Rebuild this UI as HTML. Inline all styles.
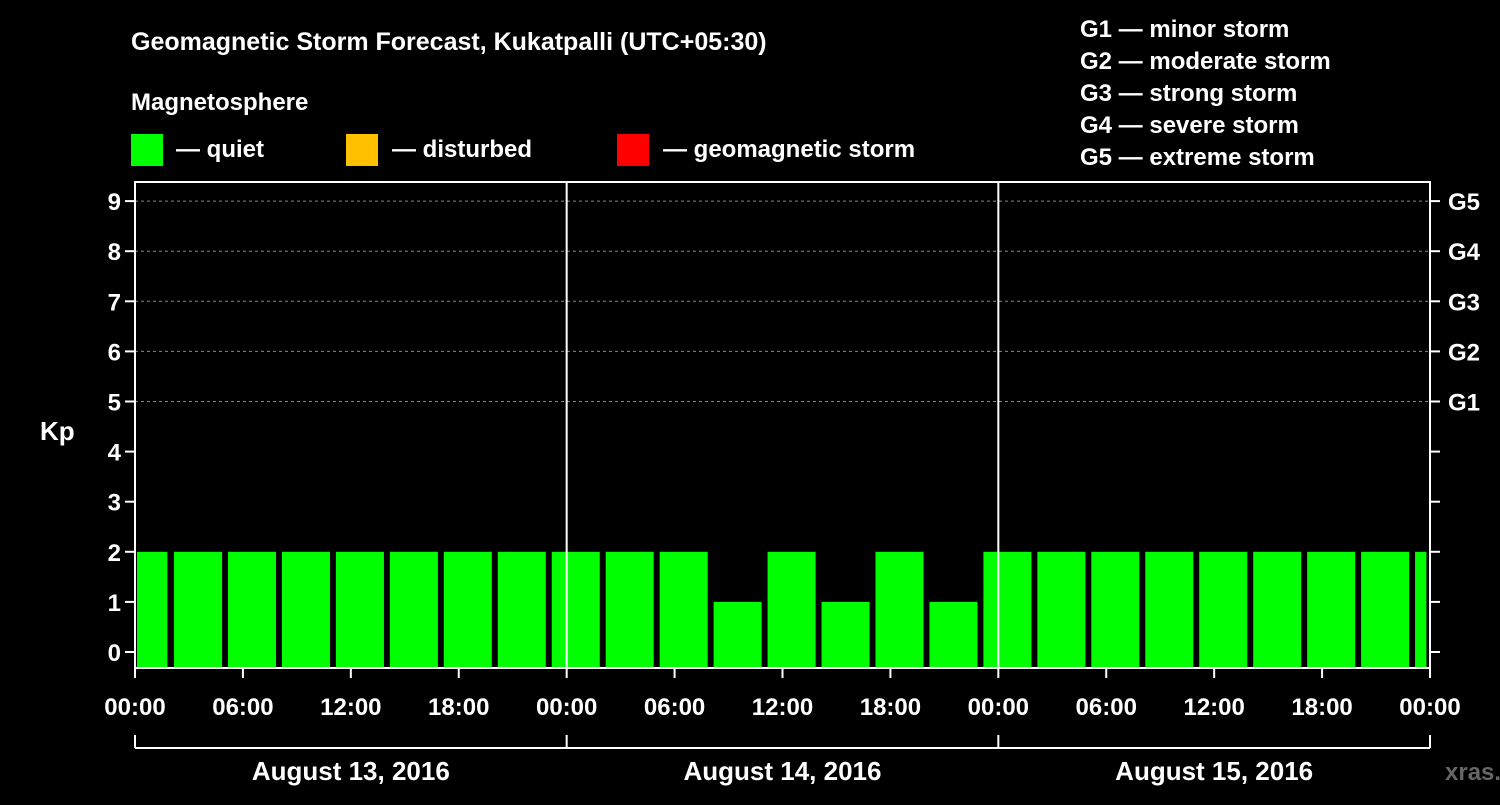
<!DOCTYPE html>
<html><head><meta charset="utf-8"><style>
body{margin:0;background:#000;width:1500px;height:800px;overflow:hidden}
svg text{font-family:"Liberation Sans",Arial,sans-serif;font-weight:bold;fill:#fff}
</style></head><body>
<svg width="1500" height="800" id="c">
<text x="131" y="50" font-size="25">Geomagnetic Storm Forecast, Kukatpalli (UTC+05:30)</text>
<text x="131" y="110" font-size="24">Magnetosphere</text>
<rect x="131" y="134" width="32" height="32" fill="#00ff00"/>
<text x="176" y="157" font-size="24">— quiet</text>
<rect x="346" y="134" width="32" height="32" fill="#ffc000"/>
<text x="392" y="157" font-size="24">— disturbed</text>
<rect x="617" y="134" width="32" height="32" fill="#ff0000"/>
<text x="663" y="157" font-size="24">— geomagnetic storm</text>
<g font-size="24">
<text x="1080" y="37">G1 — minor storm</text>
<text x="1080" y="69">G2 — moderate storm</text>
<text x="1080" y="101">G3 — strong storm</text>
<text x="1080" y="133">G4 — severe storm</text>
<text x="1080" y="165">G5 — extreme storm</text>
</g>
<text x="40" y="440" font-size="26">Kp</text>
<g id="plot"></g>
<text x="1445" y="780" font-size="24" style="fill:#666">xras.ru</text>
</svg>
<script>
const firstPartial = 2;
const kpValues = [2,2,2,2,2,2,2,2,2,2,1,2,1,2,1,2,2,2,2,2,2,2,2];
const lastPartial = 2;
const yTicks = [0,1,2,3,4,5,6,7,8,9];
const gLabels = ['G1','G2','G3','G4','G5'];
const xTickLabels = ['00:00','06:00','12:00','18:00','00:00','06:00','12:00','18:00','00:00','06:00','12:00','18:00','00:00'];
const dayLabels = ['August 13, 2016','August 14, 2016','August 15, 2016'];

const NS='http://www.w3.org/2000/svg';
const g=document.getElementById('plot');
const X0=135,X1=1430,TOP=182,BOT=668;
const hx=h=>X0+(X1-X0)*h/72;
const ky=k=>652-k*50.1;
function mk(t,a,p){const e=document.createElementNS(NS,t);for(const k in a)e.setAttribute(k,a[k]);(p||g).appendChild(e);return e;}
function colorFor(v){return v>=5?'#ff0000':v>=4?'#ffc000':'#00ff00';}
// grid
yTicks.forEach(k=>{
  if(k>=5){const l=mk('line',{x1:X0,x2:X1,y1:ky(k),y2:ky(k),stroke:'#888','stroke-dasharray':'3,3'});
  }
});
// bars
let b=mk('rect',{x:hx(0)+2,y:ky(firstPartial),width:hx(1.8)-hx(0)-2,height:BOT-ky(firstPartial),fill:colorFor(firstPartial)});

kpValues.forEach((v,i)=>{
  const s=2.17+3*i;
  const r=mk('rect',{x:hx(s),y:ky(v),width:hx(s+2.67)-hx(s),height:BOT-ky(v),fill:colorFor(v)});
  
});
const ls=2.17+3*kpValues.length;
b=mk('rect',{x:hx(ls),y:ky(lastPartial),width:hx(71.8)-hx(ls),height:BOT-ky(lastPartial),fill:colorFor(lastPartial)});

// frame
const f=mk('rect',{x:X0,y:TOP,width:X1-X0,height:BOT-TOP,fill:'none',stroke:'#fff','stroke-width':2});

[24,48].forEach(h=>{const l=mk('line',{x1:hx(h),x2:hx(h),y1:TOP,y2:BOT,stroke:'#fff','stroke-width':2});
});
// y ticks
yTicks.forEach(k=>{
  mk('line',{x1:X0-10,x2:X0,y1:ky(k),y2:ky(k),stroke:'#fff','stroke-width':2});
  mk('line',{x1:X1,x2:X1+10,y1:ky(k),y2:ky(k),stroke:'#fff','stroke-width':2});
  const t=mk('text',{x:X0-14,y:ky(k)+9,'font-size':24,'text-anchor':'end'});t.textContent=k;
  
});
gLabels.forEach((s,i)=>{const t=mk('text',{x:1448,y:ky(5+i)+9,'font-size':24});t.textContent=s;
  });
// x ticks
xTickLabels.forEach((s,i)=>{
  const x=hx(i*6);
  mk('line',{x1:x,x2:x,y1:BOT,y2:BOT+10,stroke:'#fff','stroke-width':2});
  const t=mk('text',{x:x,y:715,'font-size':24,'text-anchor':'middle'});t.textContent=s;
  
});
// day bracket
mk('line',{x1:X0,x2:X1,y1:748,y2:748,stroke:'#fff','stroke-width':2});
[0,24,48,72].forEach(h=>mk('line',{x1:hx(h),x2:hx(h),y1:735,y2:748,stroke:'#fff','stroke-width':2}));
dayLabels.forEach((s,i)=>{const t=mk('text',{x:hx(i*24+12),y:780,'font-size':26,'text-anchor':'middle'});t.textContent=s;
  });
</script>
</body></html>
